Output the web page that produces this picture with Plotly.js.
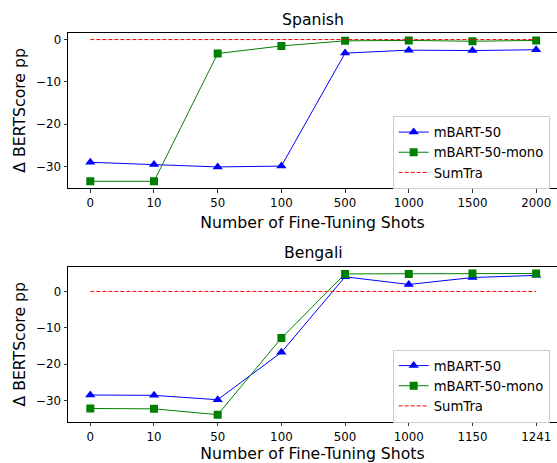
<!DOCTYPE html>
<html>
<head>
<meta charset="utf-8">
<script src="https://cdn.plot.ly/plotly-3.0.1.min.js"></script>
<style>html,body{margin:0;padding:0;background:#fff;}#chart{width:557px;height:463px;}</style>
</head>
<body>
<div id="chart"></div>
<script>
// Spanish panel
const esShots = ['0', '10', '50', '100', '500', '1000', '1500', '2000'];
const esMbart50 = [-29.0, -29.5, -30.1, -29.9, -3.2, -2.5, -2.6, -2.4];
const esMbart50Mono = [-33.5, -33.5, -3.3, -1.5, -0.3, -0.2, -0.4, -0.2];
const esSumTra = [0, 0, 0, 0, 0, 0, 0, 0];

// Bengali panel
const bnShots = ['0', '10', '50', '100', '500', '1000', '1150', '1241'];
const bnMbart50 = [-28.4, -28.5, -29.7, -16.7, 4.0, 1.9, 3.8, 4.4];
const bnMbart50Mono = [-32.1, -32.2, -33.8, -12.8, 4.8, 4.8, 4.9, 4.9];
const bnSumTra = [0, 0, 0, 0, 0, 0, 0, 0];

const seriesNames = ['mBART-50', 'mBART-50-mono', 'SumTra'];
const FONT = 'DejaVu Sans, sans-serif';

function panel(shots, a, b, c, xa, ya, leg) {
  return [
    {x: shots, y: a, xaxis: xa, yaxis: ya, legend: leg, name: seriesNames[0], type: 'scatter', mode: 'lines+markers',
     line: {color: '#0000ff', width: 1}, marker: {symbol: 'triangle-up', size: 9, color: '#0000ff'}},
    {x: shots, y: b, xaxis: xa, yaxis: ya, legend: leg, name: seriesNames[1], type: 'scatter', mode: 'lines+markers',
     line: {color: '#008000', width: 1}, marker: {symbol: 'square', size: 8, color: '#008000'}},
    {x: shots, y: c, xaxis: xa, yaxis: ya, legend: leg, name: seriesNames[2], type: 'scatter', mode: 'lines',
     line: {color: '#ff0000', width: 1, dash: '4px,2px'}}
  ];
}

const data = [].concat(
  panel(esShots, esMbart50, esMbart50Mono, esSumTra, 'x', 'y', 'legend'),
  panel(bnShots, bnMbart50, bnMbart50Mono, bnSumTra, 'x2', 'y2', 'legend2')
);

const tickFont = {family: FONT, size: 11.8, color: '#000'};
const titleFont = {family: FONT, size: 15.7, color: '#000'};

function xaxis(anchor) {
  return {
    domain: [0.1221, 1], anchor: anchor, type: 'category', range: [-0.35, 7.327],
    showline: true, linecolor: '#000', linewidth: 1, mirror: true,
    ticks: 'outside', ticklen: 3.5, tickwidth: 0.8, tickcolor: '#000',
    showgrid: false, zeroline: false, tickfont: tickFont,
    title: {text: 'Number of Fine-Tuning Shots', font: titleFont, standoff: 8},
    automargin: false
  };
}
function yaxis(anchor, domain, range) {
  return {
    domain: domain, anchor: anchor, range: range, dtick: 10, tick0: 0,
    showline: true, linecolor: '#000', linewidth: 1, mirror: false,
    ticks: 'outside', ticklen: 3.5, tickwidth: 0.8, tickcolor: '#000',
    showgrid: false, zeroline: false, tickfont: tickFont,
    title: {text: 'Δ BERTScore pp', font: titleFont, standoff: 6},
    automargin: false
  };
}
function legend(ytop) {
  return {
    x: 0.705, y: ytop, xanchor: 'left', yanchor: 'top',
    bgcolor: 'rgba(255,255,255,0.8)', bordercolor: '#cccccc', borderwidth: 1,
    font: {family: FONT, size: 13.2, color: '#000'}
  };
}

const layout = {
  width: 557, height: 463,
  margin: {l: 0, r: 0, t: 0, b: 0},
  paper_bgcolor: '#fff', plot_bgcolor: '#fff',
  font: {family: FONT, color: '#000'},
  showlegend: true,
  xaxis: xaxis('y'),
  yaxis: yaxis('x', [0.5933, 0.9298], [-35.15, 1.67]),
  xaxis2: xaxis('y2'),
  yaxis2: yaxis('x2', [0.0886, 0.4242], [-35.8, 6.8]),
  legend: legend(1 - 116 / 463),
  legend2: legend(1 - 349.5 / 463),
  annotations: [
    {text: 'Spanish', xref: 'paper', yref: 'paper', x: 313 / 557, y: 1 - 19 / 463,
     xanchor: 'center', yanchor: 'middle', showarrow: false, font: titleFont},
    {text: 'Bengali', xref: 'paper', yref: 'paper', x: 313 / 557, y: 1 - 252.5 / 463,
     xanchor: 'center', yanchor: 'middle', showarrow: false, font: titleFont}
  ]
};

Plotly.newPlot('chart', data, layout, {displayModeBar: false, staticPlot: true});
</script>
</body>
</html>
